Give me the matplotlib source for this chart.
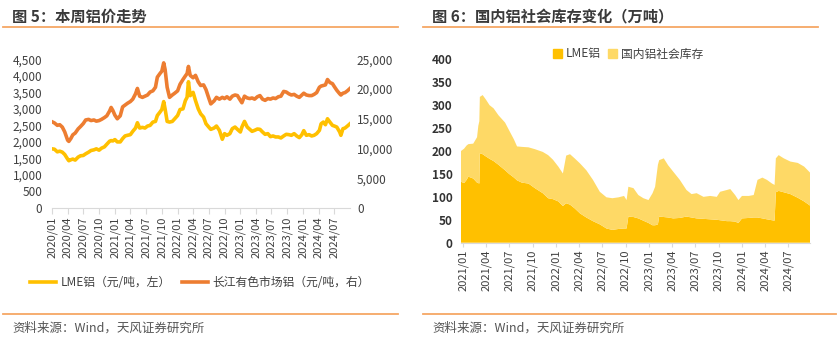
import numpy as np
import pandas as pd
import matplotlib
matplotlib.use('Agg')
import matplotlib.pyplot as plt
import matplotlib.dates as mdates
from matplotlib.lines import Line2D
from matplotlib.patches import Patch

plt.rcParams['font.family'] = ['Noto Sans CJK SC', 'DejaVu Sans']

# ---- 图5 数据：铝价 ----
price_dates = [
    '2020-01-01', '2020-01-15', '2020-02-01', '2020-02-15', '2020-03-01', '2020-03-15',
    '2020-04-01', '2020-04-08', '2020-04-20', '2020-05-01', '2020-05-15', '2020-06-01',
    '2020-06-15', '2020-07-01', '2020-07-15', '2020-08-01', '2020-08-15', '2020-09-01',
    '2020-09-15', '2020-10-01', '2020-10-15', '2020-11-01', '2020-11-15', '2020-12-01',
    '2020-12-10', '2020-12-20', '2021-01-01', '2021-01-15', '2021-02-01', '2021-02-15',
    '2021-03-01', '2021-03-15', '2021-04-01', '2021-04-15', '2021-05-01', '2021-05-12',
    '2021-05-25', '2021-06-10', '2021-06-25', '2021-07-10', '2021-07-25', '2021-08-10',
    '2021-08-25', '2021-09-05', '2021-09-20', '2021-10-01', '2021-10-12', '2021-10-20',
    '2021-11-01', '2021-11-15', '2021-12-01', '2021-12-15', '2022-01-01', '2022-01-15',
    '2022-02-01', '2022-02-15', '2022-02-25', '2022-03-05', '2022-03-15', '2022-04-01',
    '2022-04-15', '2022-05-01', '2022-05-15', '2022-06-01', '2022-06-15', '2022-07-01',
    '2022-07-13', '2022-08-01', '2022-08-15', '2022-09-01', '2022-09-18', '2022-10-01',
    '2022-10-15', '2022-11-01', '2022-11-15', '2022-12-01', '2022-12-15', '2023-01-01',
    '2023-01-10', '2023-01-25', '2023-02-10', '2023-02-25', '2023-03-10', '2023-03-25',
    '2023-04-10', '2023-04-25', '2023-05-10', '2023-05-25', '2023-06-10', '2023-06-25',
    '2023-07-10', '2023-07-25', '2023-08-10', '2023-08-25', '2023-09-10', '2023-09-25',
    '2023-10-10', '2023-10-25', '2023-11-10', '2023-11-25', '2023-12-10', '2023-12-25',
    '2024-01-05', '2024-01-20', '2024-02-05', '2024-02-20', '2024-03-05', '2024-03-20',
    '2024-04-05', '2024-04-15', '2024-04-28', '2024-05-10', '2024-05-22', '2024-06-05',
    '2024-06-20', '2024-07-01', '2024-07-15', '2024-08-01', '2024-08-08', '2024-08-20',
    '2024-09-01', '2024-09-15', '2024-09-30']

lme_price = [
    1790, 1780, 1700, 1720, 1690, 1620,
    1480, 1430, 1460, 1480, 1450, 1540,
    1580, 1590, 1640, 1690, 1740, 1760,
    1790, 1750, 1810, 1850, 1930, 2020,
    2040, 2030, 2070, 2000, 2000, 2100,
    2180, 2200, 2220, 2320, 2420, 2580,
    2420, 2440, 2420, 2480, 2500, 2600,
    2620, 2800, 2900, 2980, 3220, 3000,
    2620, 2600, 2620, 2700, 2800, 2980,
    3000, 3250, 3350, 3820, 3400, 3500,
    3250, 3000, 2850, 2750, 2550, 2450,
    2380, 2420, 2480, 2350, 2080, 2250,
    2200, 2250, 2400, 2450, 2380, 2300,
    2450, 2620, 2450, 2380, 2320, 2350,
    2390, 2380, 2300, 2230, 2250, 2160,
    2180, 2150, 2150, 2120, 2180, 2230,
    2220, 2200, 2250, 2180, 2130, 2220,
    2340, 2200, 2220, 2180, 2200, 2250,
    2350, 2550, 2600, 2520, 2700, 2600,
    2500, 2480, 2450, 2300, 2200, 2400,
    2420, 2480, 2550]

cj_price = [
    14500, 14300, 13900, 14000, 13600, 12800,
    11400, 11200, 11700, 12300, 12600, 13300,
    13700, 14200, 14800, 14900, 14700, 14800,
    14600, 14700, 14900, 15200, 15500, 16300,
    16900, 16400, 15600, 15000, 15500, 17000,
    17300, 17600, 17900, 18300, 19200, 20100,
    18800, 18600, 18800, 19000, 19500, 19700,
    20300, 22000, 22600, 23000, 24400, 23300,
    20300, 18600, 19000, 19300, 19700, 20800,
    21600, 22200, 22600, 23800, 22300, 21900,
    22300, 21200, 20600, 20700, 19900, 18500,
    17500, 18000, 18600, 18300, 18600, 18400,
    18700, 18300, 18800, 19000, 18900, 18100,
    17700, 18800, 18500, 18400, 18500, 18300,
    18700, 18900, 18300, 18100, 18400, 18300,
    18500, 18400, 18700, 18800, 19600, 19500,
    19200, 19000, 19100, 18800, 18600, 19000,
    19300, 19000, 18900, 18900, 19100, 19400,
    20300, 20500, 20600, 20700, 21600, 21100,
    20900, 20400, 19800, 19200, 19000, 19300,
    19400, 19700, 20100]

# ---- 图6 数据：库存（万吨） ----
stock_dates = [
    '2020-12-24', '2021-01-05', '2021-01-15', '2021-01-22', '2021-02-10', '2021-02-25',
    '2021-03-02', '2021-03-06', '2021-03-08', '2021-03-19', '2021-04-01', '2021-04-15',
    '2021-05-01', '2021-05-20', '2021-06-15', '2021-07-01', '2021-07-20', '2021-08-01',
    '2021-08-20', '2021-09-15', '2021-10-10', '2021-11-10', '2021-12-01', '2021-12-20',
    '2022-01-10', '2022-01-28', '2022-02-10', '2022-02-25', '2022-03-15', '2022-04-05',
    '2022-04-30', '2022-05-26', '2022-06-22', '2022-07-18', '2022-08-10', '2022-09-04',
    '2022-09-25', '2022-10-05', '2022-10-12', '2022-11-01', '2022-11-20', '2022-12-10',
    '2022-12-30', '2023-01-15', '2023-01-25', '2023-02-05', '2023-02-10', '2023-02-28',
    '2023-03-17', '2023-04-06', '2023-05-02', '2023-05-28', '2023-06-17', '2023-07-07',
    '2023-08-03', '2023-08-29', '2023-09-24', '2023-10-07', '2023-11-03', '2023-11-16',
    '2023-12-05', '2023-12-18', '2024-01-01', '2024-01-28', '2024-02-16', '2024-03-02',
    '2024-03-21', '2024-04-08', '2024-04-28', '2024-05-08', '2024-05-13', '2024-05-24',
    '2024-06-13', '2024-07-09', '2024-08-07', '2024-09-01', '2024-09-24']

lme_stock = [
    133, 130, 137, 144, 140, 131,
    130, 129, 195, 193, 188, 183,
    178, 170, 158, 150, 142, 136,
    131, 129, 119, 108, 97, 95,
    90, 80, 86, 83, 75, 64,
    55, 47, 40, 31, 28, 30,
    31, 31, 57, 56, 53, 48,
    43, 38, 38, 40, 57, 56,
    55, 53, 54, 57, 55, 53,
    52, 51, 50, 49, 47, 47,
    46, 43, 53, 54, 55, 55,
    53, 51, 49, 48, 110, 113,
    110, 106, 98, 90, 81]

cn_stock = [
    67, 75, 75, 71, 76, 99,
    125, 136, 123, 129, 124, 117,
    115, 108, 104, 95, 83, 74,
    78, 79, 85, 90, 94, 86,
    76, 71, 104, 110, 109, 109,
    103, 90, 71, 68, 69, 69,
    71, 62, 65, 63, 51, 49,
    50, 70, 84, 130, 123, 128,
    114, 102, 83, 58, 51, 55,
    48, 51, 50, 62, 68, 70,
    58, 50, 49, 48, 49, 82,
    89, 86, 80, 78, 74, 78,
    74, 71, 76, 76, 72]

W, H = 839, 344
fig = plt.figure(figsize=(W / 100, H / 100), dpi=100)
fig.patch.set_facecolor('white')


def fx(x):
    return x / W


def fy(y):
    return 1 - y / H


title_c = '#3a3a3a'
rule_c = '#F6A765'
text_c = '#404040'

# 标题、分隔线、来源
for x0, x1, xt, title in [(3, 398, 12, '图 5：本周铝价走势'),
                          (423, 818, 432, '图 6：国内铝社会库存变化（万吨）')]:
    fig.text(fx(xt), fy(17), title, fontsize=11, fontweight='bold',
             color=title_c, va='center', ha='left')
    fig.add_artist(Line2D([fx(x0), fx(x1)], [fy(27), fy(27)], color=rule_c, lw=1.3))
    fig.text(fx(xt), fy(328), '资料来源：Wind，天风证券研究所', fontsize=9,
             color='#555555', va='center', ha='left')
fig.add_artist(Line2D([fx(3), fx(398)], [fy(314), fy(314)], color=rule_c, lw=1.3))
fig.add_artist(Line2D([fx(423), fx(836)], [fy(314), fy(314)], color=rule_c, lw=1.3))

# ---- 左图 ----
pd_dates = pd.to_datetime(price_dates)
ax1 = fig.add_axes([fx(52), fy(208), fx(350) - fx(52), fy(59.3) - fy(208)])
ax1b = ax1.twinx()
l2, = ax1b.plot(pd_dates, cj_price, color='#ED7D31', lw=2.6, solid_joinstyle='round')
l1, = ax1.plot(pd_dates, lme_price, color='#FFC000', lw=2.6, solid_joinstyle='round')
ax1.set_zorder(ax1b.get_zorder() + 1)
ax1.patch.set_visible(False)
ax1.set_ylim(0, 4500)
ax1.set_yticks(np.arange(0, 4501, 500))
ax1b.set_ylim(0, 25000)
ax1b.set_yticks(np.arange(0, 25001, 5000))
ax1.yaxis.set_major_formatter(matplotlib.ticker.StrMethodFormatter('{x:,.0f}'))
ax1b.yaxis.set_major_formatter(matplotlib.ticker.StrMethodFormatter('{x:,.0f}'))
ax1.set_xlim(pd.Timestamp('2020-01-01'), pd.Timestamp('2024-09-30'))

for a in (ax1, ax1b):
    for s in a.spines.values():
        s.set_visible(False)
ax1.spines['bottom'].set_visible(True)
ax1.spines['bottom'].set_color('#D9D9D9')
ax1.tick_params(axis='y', length=0, pad=7, labelsize=8.5, labelcolor=text_c)
ax1b.tick_params(axis='y', length=0, pad=5, labelsize=8.5, labelcolor=text_c)
ax1.xaxis.set_major_locator(mdates.MonthLocator(bymonth=[1, 4, 7, 10]))
ax1.xaxis.set_major_formatter(mdates.DateFormatter('%Y/%m'))
ax1.tick_params(axis='x', length=4, color='#D9D9D9', pad=2, labelsize=8,
                labelcolor=text_c, labelrotation=90)

fig.legend([l1, l2], ['LME铝（元/吨，左）', '长江有色市场铝（元/吨，右）'],
           loc='center', bbox_to_anchor=(fx(200), fy(283)), ncol=2, frameon=False,
           fontsize=8.5, labelcolor=text_c, handlelength=2.2, handletextpad=0.4,
           columnspacing=0.9)

# ---- 右图 ----
sd = pd.to_datetime(stock_dates)
ax2 = fig.add_axes([fx(461), fy(242.7), fx(810) - fx(461), fy(59.3) - fy(242.7)])
ax2.stackplot(sd, lme_stock, cn_stock, colors=['#FFC000', '#FED966'], lw=0)
ax2.set_ylim(0, 400)
ax2.set_yticks(np.arange(0, 401, 50))
ax2.set_xlim(pd.Timestamp('2020-12-24'), pd.Timestamp('2024-09-24'))
for s in ax2.spines.values():
    s.set_visible(False)
ax2.spines['bottom'].set_visible(True)
ax2.spines['bottom'].set_color('#D9D9D9')
ax2.tick_params(axis='y', length=0, pad=6, labelsize=8.5, labelcolor='#333333')
for lab in ax2.get_yticklabels():
    lab.set_fontweight('bold')
ax2.xaxis.set_major_locator(mdates.MonthLocator(bymonth=[1, 4, 7, 10]))
ax2.xaxis.set_major_formatter(mdates.DateFormatter('%Y/%m'))
ax2.tick_params(axis='x', length=3, color='#D9D9D9', pad=2, labelsize=8,
                labelcolor=text_c, labelrotation=90)

handles = [Patch(color='#FFC000'), Patch(color='#FED966')]
fig.legend(handles, ['LME铝', '国内铝社会库存'], loc='center',
           bbox_to_anchor=(fx(628), fy(54)), ncol=2, frameon=False, fontsize=8.5,
           labelcolor=text_c, handlelength=0.8, handleheight=0.8,
           handletextpad=0.3, columnspacing=0.6)

fig.savefig('out.png', dpi=100, facecolor='white')
